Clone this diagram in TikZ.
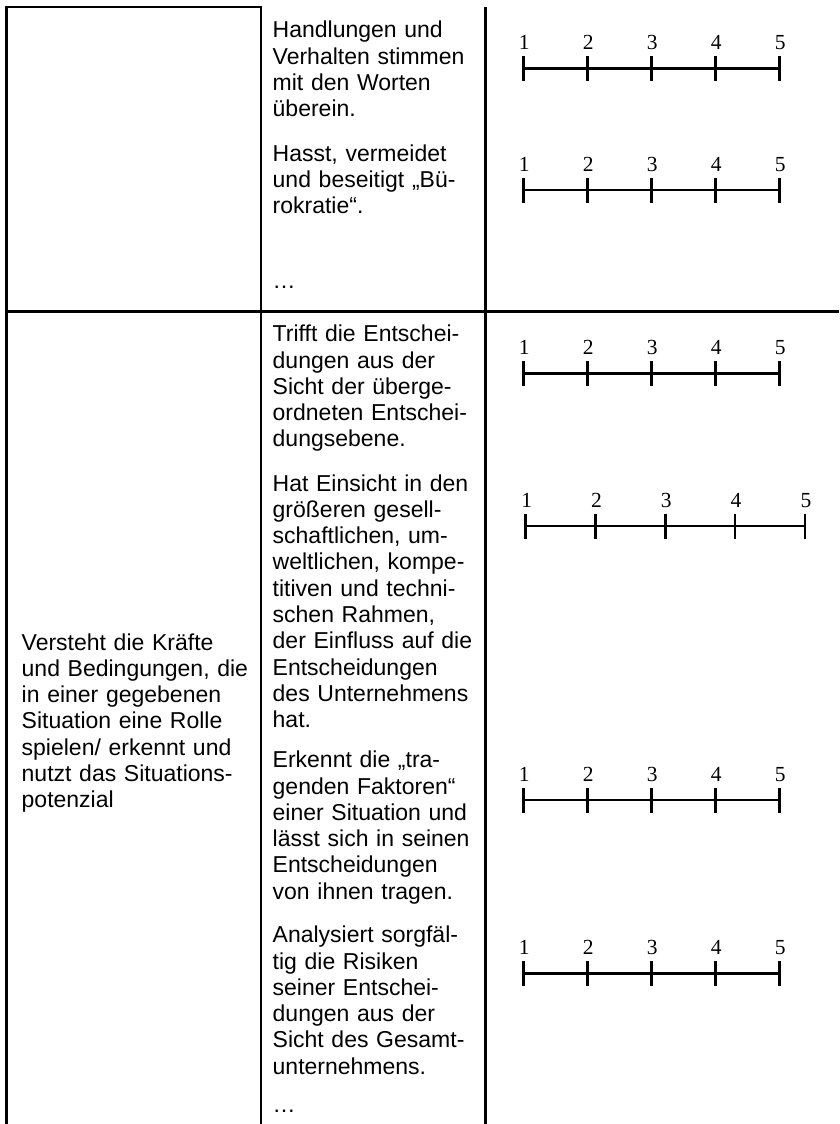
\documentclass[tikz,border=0pt]{standalone}
\usepackage{fontspec}
\setmainfont{Liberation Sans}
\newfontfamily\numfont{Liberation Serif}
\begin{document}
\begin{tikzpicture}[x=1pt,y=-1pt,
  tline/.style={line width=2.5pt},
  scaleline/.style={line width=2.6pt},
  num/.style={font=\numfont\fontsize{21.5}{24}\selectfont, inner sep=0pt, anchor=base},
  cell/.style={font=\fontsize{23}{26.3}\selectfont, inner sep=0pt, anchor=base west, align=left, text width=#1},
  rscale/.pic={
    \draw[scaleline] (0,0) -- (4*#1,0);
    \foreach \i [evaluate=\i as \j using int(\i+1)] in {0,...,4} {
      \draw[scaleline] (\i*#1,-12.5) -- (\i*#1,12.5);
      \node[num] (-n\j) at (\i*#1+1,-19) {\j};
    }
  }]
\useasboundingbox (0,0) rectangle (839,1124);
% table rules
\draw[tline] (261,1124) -- (261,7) -- (6.5,7) -- (6.5,1124);
\draw[tline] (485.7,7) -- (485.7,1124);
\draw[tline] (6.5,311.7) -- (839,311.7);
% left column
\node[cell=235pt] (crit) at (21.5,650) {Versteht die Kräfte\\und Bedingungen, die\\in einer gegebenen\\Situation eine Rolle\\spielen/ erkennt und\\nutzt das Situations-\\potenzial};
% middle column, row 1
\node[cell=205pt] (b1) at (272.5,37.7) {Handlungen und\\Verhalten stimmen\\mit den Worten\\überein.};
\node[cell=205pt] (b2) at (272.5,161) {Hasst, vermeidet\\und beseitigt „Bü-\\rokratie“.};
\node[cell=205pt] (d1) at (272.5,288) {…};
% middle column, row 2
\node[cell=205pt] (b3) at (272.5,341.7) {Trifft die Entschei-\\dungen aus der\\Sicht der überge-\\ordneten Entschei-\\dungsebene.};
\node[cell=205pt] (b4) at (272.5,491) {Hat Einsicht in den\\größeren gesell-\\schaftlichen, um-\\weltlichen, kompe-\\titiven und techni-\\schen Rahmen,\\der Einfluss auf die\\Entscheidungen\\des Unternehmens\\hat.};
\node[cell=205pt] (b5) at (272.5,767.7) {Erkennt die „tra-\\genden Faktoren“\\einer Situation und\\lässt sich in seinen\\Entscheidungen\\von ihnen tragen.};
\node[cell=205pt] (b6) at (272.5,942.7) {Analysiert sorgfäl-\\tig die Risiken\\seiner Entschei-\\dungen aus der\\Sicht des Gesamt-\\unternehmens.};
\node[cell=205pt] (d2) at (272.5,1112) {…};
% rating scales
\pic (s1) at (523.3,68.3) {rscale=64};
\pic (s2) at (523.3,190) {rscale=64};
\pic (s3) at (523.3,373.3) {rscale=64};
\pic (s4) at (525.7,526) {rscale=69.8};
\pic (s5) at (523.3,800) {rscale=64};
\pic (s6) at (523.3,973.3) {rscale=64};
\end{tikzpicture}
\end{document}
